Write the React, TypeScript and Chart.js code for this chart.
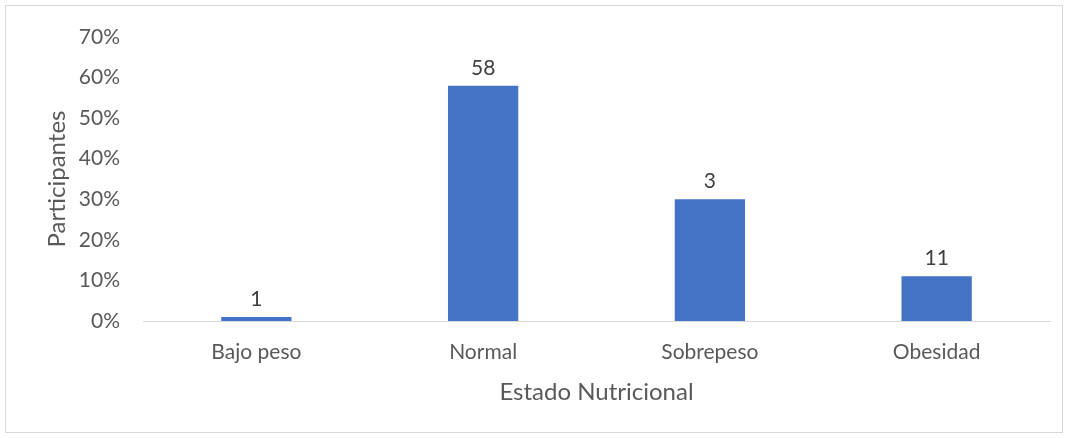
import React, { useEffect, useRef } from "react";
import { Chart, registerables } from "chart.js";

Chart.register(...registerables);

const categories = ["Bajo peso", "Normal", "Sobrepeso", "Obesidad"];
const percentages = [1, 58, 30, 11];
const barLabels = ["1", "58", "3", "11"];
const yTicks = [0, 10, 20, 30, 40, 50, 60, 70];

const FONT = "Lato, 'Open Sans', sans-serif";
const TEXT = "#595959";

const borderPlugin = {
  id: "outerBorder",
  beforeDraw(chart: any) {
    const ctx = chart.ctx;
    ctx.save();
    ctx.fillStyle = "#ffffff";
    ctx.fillRect(0, 0, chart.width, chart.height);
    ctx.strokeStyle = "#D9D9D9";
    ctx.lineWidth = 1;
    ctx.strokeRect(5.5, 5.5, chart.width - 11, chart.height - 11);
    ctx.restore();
  },
};

const labelPlugin = {
  id: "barLabels",
  afterDatasetsDraw(chart: any) {
    const ctx = chart.ctx;
    const meta = chart.getDatasetMeta(0);
    ctx.save();
    ctx.font = `21px ${FONT}`;
    ctx.fillStyle = "#404040";
    ctx.textAlign = "center";
    ctx.textBaseline = "alphabetic";
    meta.data.forEach((bar: any, i: number) => {
      ctx.fillText(barLabels[i], bar.x, bar.y - 11);
    });
    ctx.restore();
  },
};

export default function App() {
  const ref = useRef<HTMLCanvasElement>(null);
  useEffect(() => {
    document.body.style.margin = "0";
    const chart = new Chart(ref.current!, {
      type: "bar",
      data: {
        labels: categories,
        datasets: [
          {
            data: percentages,
            backgroundColor: "#4472C4",
            categoryPercentage: 1,
            barPercentage: 0.31,
          },
        ],
      },
      plugins: [borderPlugin, labelPlugin],
      options: {
        animation: false,
        responsive: false,
        layout: { padding: { top: 37, right: 18, left: 0, bottom: 0 } },
        plugins: { legend: { display: false }, tooltip: { enabled: false } },
        scales: {
          x: {
            grid: { display: false, drawTicks: false },
            border: { display: true, color: "#D9D9D9", width: 1 },
            ticks: { color: TEXT, font: { family: FONT, size: 21 }, padding: 19 },
            title: {
              display: true,
              text: "Estado Nutricional",
              color: TEXT,
              font: { family: FONT, size: 24 },
              padding: { top: 8, bottom: 31 },
            },
            afterFit(scale: any) {
              scale.height = 117;
            },
          },
          y: {
            min: 0,
            max: 70,
            grid: { display: false, drawTicks: false },
            border: { display: false },
            afterBuildTicks(scale: any) {
              scale.ticks = yTicks.map((v) => ({ value: v }));
            },
            ticks: {
              color: TEXT,
              font: { family: FONT, size: 21 },
              padding: 23,
              callback: (v: any) => `${v}%`,
            },
            title: {
              display: true,
              text: "Participantes",
              color: TEXT,
              font: { family: FONT, size: 24 },
              padding: { top: 43, bottom: 0 },
            },
            afterFit(scale: any) {
              scale.width = 143;
            },
          },
        },
      },
    });
    return () => chart.destroy();
  }, []);
  return (
    <div style={{ width: 1068, height: 438 }}>
      <canvas ref={ref} width={1068} height={438} style={{ width: 1068, height: 438, display: "block" }} />
    </div>
  );
}
